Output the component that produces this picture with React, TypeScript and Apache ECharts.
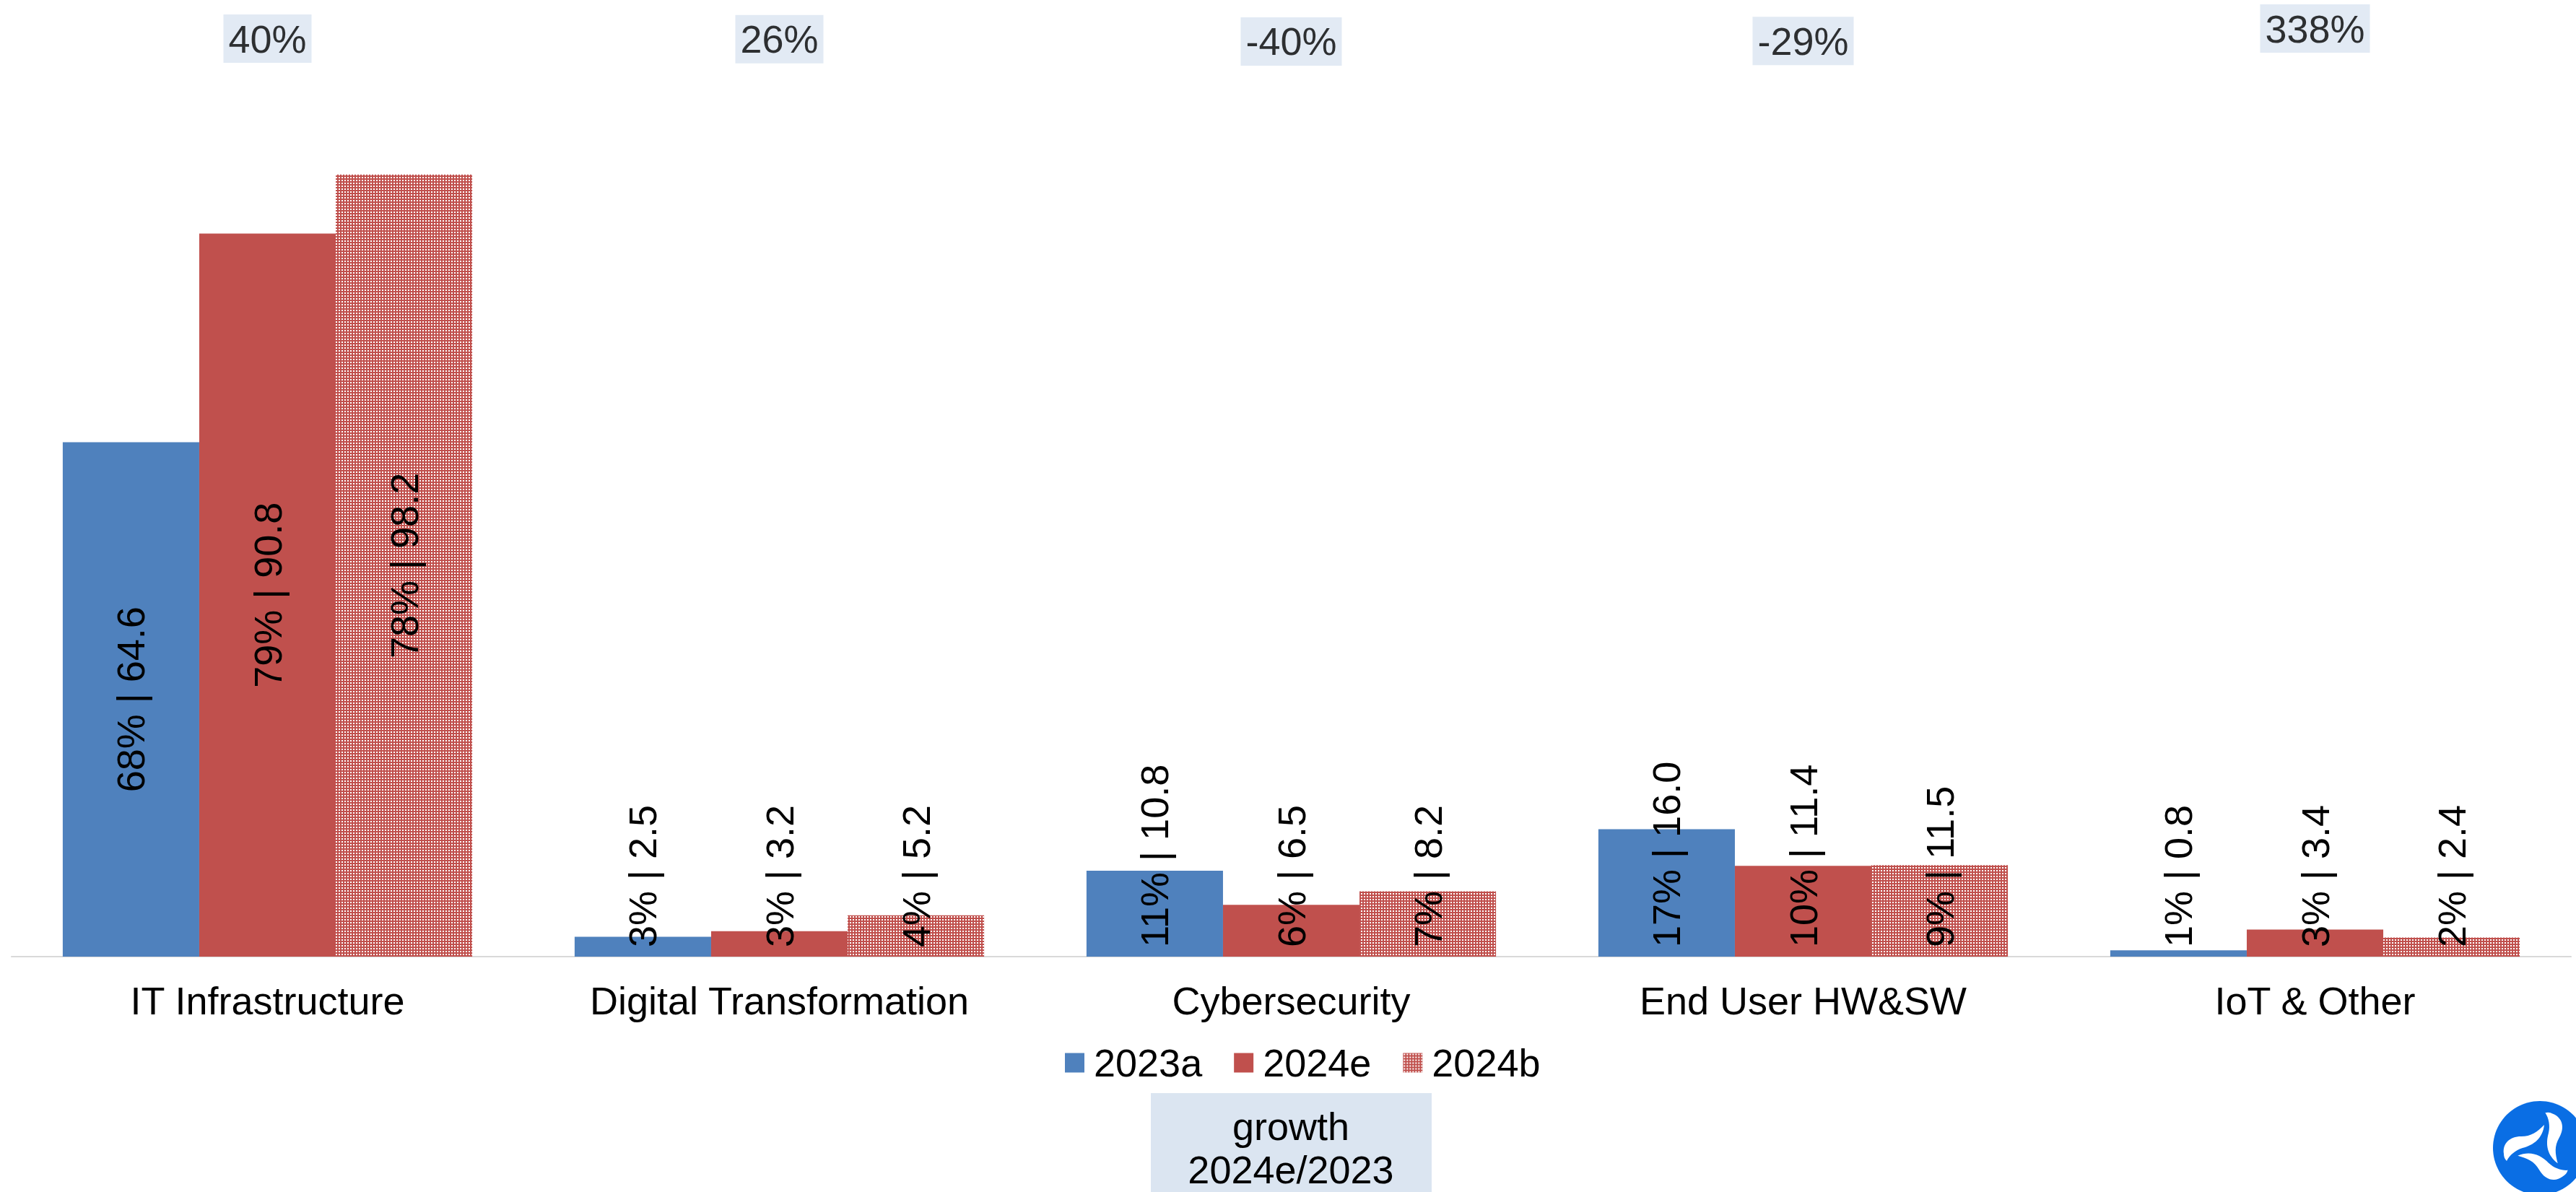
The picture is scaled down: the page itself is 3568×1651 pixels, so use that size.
import React, { useEffect, useRef } from "react";
import * as echarts from "echarts";

// Segment revenue by year (bn), one array per series
const categories = [
  "IT Infrastructure",
  "Digital Transformation",
  "Cybersecurity",
  "End User HW&SW",
  "IoT & Other",
];
const seriesNames = ["2023a", "2024e", "2024b"];
const values2023a = [64.6, 2.5, 10.8, 16.0, 0.8];
const values2024e = [90.8, 3.2, 6.5, 11.4, 3.4];
const values2024b = [98.2, 5.2, 8.2, 11.5, 2.4];
// Growth 2024e vs 2023, in percent
const growthPct = [40, 26, -40, -29, 338];
const growthCaption = ["growth", "2024e/2023"];

const BLUE = "#4F81BD";
const RED = "#C0504D";
const BOX = "#DBE5F1";
const FONT = '"Liberation Sans", Arial, sans-serif';
const FS = 54;

// One blade of the round logo; three rotated copies make the pinwheel
const BLADE_D =
  "M -50 8 C -52 -6 -42 -16 -26 -16 C -12 -16 -4 -22 6 -32 C 4 -14 -8 -4 -24 0 C -34 3 -42 10 -46 18 C -49 15 -50 12 -50 8 Z";
echarts.graphic.registerShape("logoBlade", echarts.graphic.extendPath(BLADE_D, {}));

function dotPattern(): HTMLCanvasElement {
  const c = document.createElement("canvas");
  c.width = 4;
  c.height = 4;
  const ctx = c.getContext("2d")!;
  ctx.fillStyle = RED;
  ctx.fillRect(0, 0, 4, 4);
  ctx.fillStyle = "#FFFFFF";
  ctx.fillRect(1, 1, 2, 2);
  return c;
}

function shareLabel(values: number[]) {
  const total = values.reduce((a, b) => a + b, 0);
  return (p: any) => `${Math.round((p.value / total) * 100)}% | ${Number(p.value).toFixed(1)}`;
}

function barData(values: number[]) {
  // The tall first bar carries its label in the middle, the others sit at the base
  return values.map((v, i) =>
    i === 0
      ? { value: v, label: { position: "inside", align: "center", verticalAlign: "middle" } }
      : { value: v }
  );
}

function barSeries(name: string, values: number[], color: any) {
  return {
    name,
    type: "bar",
    xAxisIndex: 0,
    yAxisIndex: 0,
    barGap: "0%",
    barCategoryGap: "20%",
    itemStyle: { color },
    data: barData(values),
    label: {
      show: true,
      rotate: 90,
      position: "insideBottom",
      distance: 13,
      align: "left",
      verticalAlign: "middle",
      formatter: shareLabel(values),
      fontSize: FS,
      fontFamily: FONT,
      color: "#000",
    },
  };
}

export default function App() {
  const ref = useRef<HTMLDivElement>(null);

  useEffect(() => {
    if (!ref.current) return;
    const chart = echarts.init(ref.current, undefined, { renderer: "svg" });
    const pattern = { image: dotPattern(), repeat: "repeat" };

    const cx = 3518;
    const cy = 1590;

    chart.setOption({
      animation: false,
      backgroundColor: "#FFFFFF",
      grid: [
        { left: 16, right: 7, top: 222, bottom: 326 },
        { left: 16, right: 7, top: 32, height: 47 },
      ],
      xAxis: [
        {
          type: "category",
          gridIndex: 0,
          data: categories,
          axisLine: { lineStyle: { color: "#D9D9D9", width: 2 } },
          axisTick: { show: false },
          axisLabel: { interval: 0, margin: 34, fontSize: FS, fontFamily: FONT, color: "#000" },
        },
        { type: "category", gridIndex: 1, data: categories, show: false },
      ],
      yAxis: [
        { type: "value", gridIndex: 0, min: 0, max: 100, show: false, splitLine: { show: false } },
        { type: "value", gridIndex: 1, min: -500, max: 500, show: false, splitLine: { show: false } },
      ],
      legend: {
        data: seriesNames,
        left: 1470,
        top: 1440,
        icon: "rect",
        itemWidth: 27,
        itemHeight: 27,
        itemGap: 44,
        textStyle: { fontSize: FS, fontFamily: FONT, color: "#000", padding: [0, 0, 0, 8] },
      },
      series: [
        barSeries(seriesNames[0], values2023a, BLUE),
        barSeries(seriesNames[1], values2024e, RED),
        barSeries(seriesNames[2], values2024b, pattern),
        {
          name: "growth",
          type: "scatter",
          xAxisIndex: 1,
          yAxisIndex: 1,
          silent: true,
          symbolSize: 1,
          itemStyle: { color: "rgba(0,0,0,0)" },
          data: growthPct,
          label: {
            show: true,
            position: "inside",
            formatter: (p: any) => `${p.value}%`,
            fontSize: FS,
            fontFamily: FONT,
            color: "#000",
            backgroundColor: BOX,
            padding: [6, 7],
            lineHeight: 55,
          },
        },
      ],
      graphic: [
        {
          type: "rect",
          shape: { x: 1594, y: 1514, width: 389, height: 150 },
          style: { fill: BOX },
          silent: true,
        },
        {
          type: "text",
          x: 1788,
          y: 1590,
          silent: true,
          style: {
            text: growthCaption.join("\n"),
            align: "center",
            verticalAlign: "middle",
            fontSize: FS,
            fontFamily: FONT,
            lineHeight: 60,
            fill: "#000",
          },
        },
        {
          type: "circle",
          shape: { cx, cy, r: 65 },
          style: { fill: "#0A6EE4" },
          silent: true,
        },
        ...[0, 1, 2].map((k) => ({
          type: "logoBlade",
          x: cx,
          y: cy,
          rotation: (k * 2 * Math.PI) / 3,
          style: { fill: "#FFFFFF" },
          silent: true,
        })),
      ],
    });

    return () => chart.dispose();
  }, []);

  return (
    <div
      ref={ref}
      style={{ position: "absolute", left: 0, top: 0, width: 3568, height: 1651 }}
    />
  );
}
